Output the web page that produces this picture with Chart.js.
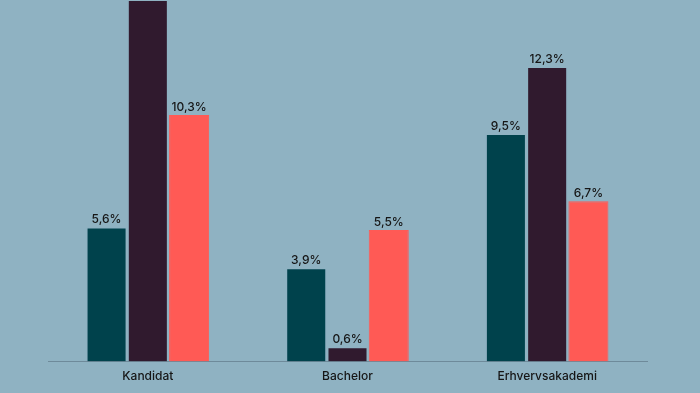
<!DOCTYPE html>
<html>
<head>
<meta charset="utf-8">
<script src="https://cdn.jsdelivr.net/npm/chart.js@4"></script>
<style>
  html, body { margin: 0; padding: 0; background: #8fb2c2; }
  #wrap { width: 700px; height: 393px; }
</style>
</head>
<body>
<div id="wrap"><canvas id="eduChart"></canvas></div>
<script>
const categories = ['Kandidat', 'Bachelor', 'Erhvervsakademi'];
const seriesA = [5.6, 3.9, 9.5];
const seriesB = [15.1, 0.6, 12.3];
const seriesC = [10.3, 5.5, 6.7];
const seriesColors = ['#00424c', '#301a2e', '#ff5a55'];
const yMax = 15.1;

const valueLabels = {
    id: 'valueLabels',
    afterDatasetsDraw(chart) {
        const ctx = chart.ctx;
        ctx.save();
        ctx.font = '500 12px Inter';
        ctx.fillStyle = '#161616';
        ctx.textAlign = 'center';
        ctx.textBaseline = 'bottom';
        chart.data.datasets.forEach((ds, i) => {
            chart.getDatasetMeta(i).data.forEach((bar, j) => {
                const txt = ds.data[j].toFixed(1).replace('.', ',') + '%';
                ctx.fillText(txt, bar.x, bar.y - 2);
            });
        });
        ctx.restore();
    }
};

document.addEventListener('DOMContentLoaded', () => {
    const ctx = document.getElementById('eduChart').getContext('2d');
    new Chart(ctx, {
        type: 'bar',
        data: {
            labels: categories,
            datasets: [seriesA, seriesB, seriesC].map((d, i) => ({
                data: d,
                backgroundColor: seriesColors[i],
                borderColor: i === 2 ? seriesColors[i] : 'rgba(143,178,194,0.35)',
                borderWidth: 1,
                categoryPercentage: 0.62,
                barPercentage: 0.97
            }))
        },
        options: {
            responsive: true,
            maintainAspectRatio: false,
            animation: false,
            layout: { padding: { left: 48, right: 53, top: 0, bottom: 9 } },
            plugins: {
                legend: { display: false },
                tooltip: { enabled: false }
            },
            scales: {
                x: {
                    grid: { display: false },
                    border: { display: true, color: '#6e8a9a', width: 1 },
                    ticks: { color: '#161616', font: { family: 'Inter', size: 12, weight: '500' }, padding: 0 }
                },
                y: {
                    display: false,
                    min: 0,
                    max: yMax
                }
            }
        },
        plugins: [valueLabels]
    });
});
</script>
</body>
</html>
